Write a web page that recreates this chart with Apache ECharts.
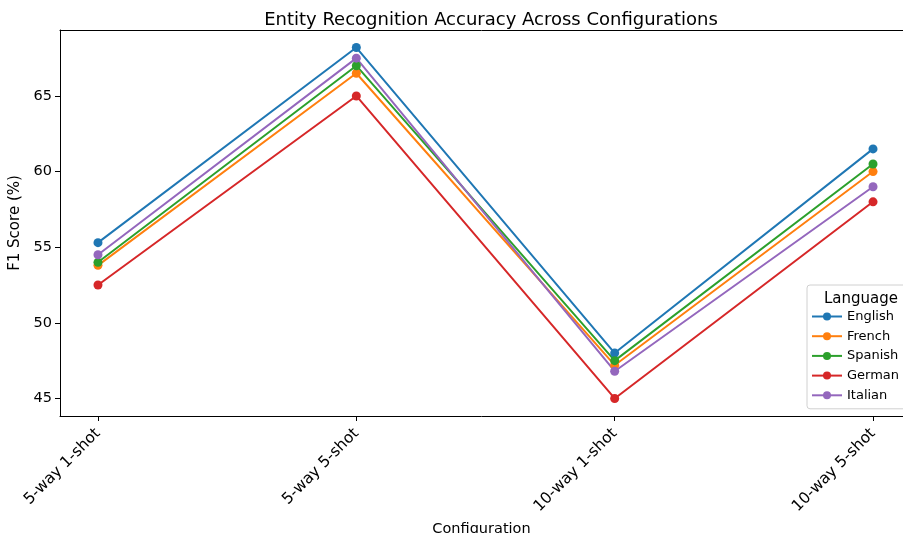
<!DOCTYPE html>
<html>
<head>
<meta charset="utf-8">
<script src="https://cdn.jsdelivr.net/npm/echarts@6/dist/echarts.min.js"></script>
<style>
html,body{margin:0;padding:0;background:#fff;}
#chart{width:903px;height:533px;}
</style>
</head>
<body>
<div id="chart"></div>
<script>
const categories = ['5-way 1-shot', '5-way 5-shot', '10-way 1-shot', '10-way 5-shot'];
const languages = ['English', 'French', 'Spanish', 'German', 'Italian'];
const english = [55.3, 68.2, 48.0, 61.5];
const french  = [53.8, 66.5, 47.2, 60.0];
const spanish = [54.0, 67.0, 47.5, 60.5];
const german  = [52.5, 65.0, 45.0, 58.0];
const italian = [54.5, 67.5, 46.8, 59.0];
const yTicks = [45, 50, 55, 60, 65];
const xTicks = [0, 1, 2, 3];
const colors = ['#1f77b4', '#ff7f0e', '#2ca02c', '#d62728', '#9467bd'];

const seriesValues = [english, french, spanish, german, italian];
const font = 'DejaVu Sans';
const chart = echarts.init(document.getElementById('chart'), null, {renderer: 'canvas'});
chart.setOption({
  animation: false,
  textStyle: {fontFamily: font},
  title: [{
    text: 'Entity Recognition Accuracy Across Configurations',
    left: 486, top: 6, textAlign: 'center',
    textStyle: {fontFamily: font, fontSize: 18, fontWeight: 'normal', color: '#000'}
  }, {
    text: 'Language',
    left: 856, top: 287, textAlign: 'center',
    textStyle: {fontFamily: font, fontSize: 15, fontWeight: 'normal', color: '#000'},
    z: 10
  }],
  legend: {
    data: languages,
    orient: 'vertical',
    left: 807, top: 285,
    padding: [25, 12, 7, 4],
    itemWidth: 30, itemHeight: 10, itemGap: 6.7,
    backgroundColor: 'rgba(255,255,255,0.85)',
    borderColor: '#d0d0d0', borderWidth: 1, borderRadius: 3,
    textStyle: {fontFamily: font, fontSize: 13, color: '#000'}
  },
  grid: {left: 60, top: 30, right: 0, bottom: 117, show: false, containLabel: false, outerBoundsMode: 'none'},
  xAxis: [{
    type: 'value', min: -0.147, max: 3.116,
    name: 'Configuration', nameLocation: 'middle', nameGap: 101,
    nameTextStyle: {fontFamily: font, fontSize: 14.5, color: '#000'},
    axisLine: {show: true, onZero: false, lineStyle: {color: '#000', width: 1}},
    axisTick: {show: true, length: 5, lineStyle: {color: '#000'}, customValues: xTicks},
    axisLabel: {
      customValues: xTicks, rotate: 45, margin: 15,
      fontFamily: font, fontSize: 15.5, color: '#000',
      formatter: v => categories[Math.round(v)]
    },
    splitLine: {show: false}
  }, {
    type: 'value', position: 'top', min: -0.147, max: 3.116,
    axisLine: {show: true, onZero: false, lineStyle: {color: '#000', width: 1}},
    axisTick: {show: false}, axisLabel: {show: false}, splitLine: {show: false}
  }],
  yAxis: {
    type: 'value', min: 43.84, max: 69.36,
    name: 'F1 Score (%)', nameLocation: 'middle', nameGap: 32, nameRotate: 90,
    nameTextStyle: {fontFamily: font, fontSize: 15, color: '#000'},
    axisLine: {show: true, onZero: false, lineStyle: {color: '#000', width: 1}},
    axisTick: {show: true, length: 5, lineStyle: {color: '#000'}, customValues: yTicks},
    axisLabel: {customValues: yTicks, margin: 8, fontFamily: font, fontSize: 14.5, color: '#000'},
    splitLine: {show: false}
  },
  series: languages.map((name, i) => ({
    name, type: 'line',
    data: seriesValues[i].map((v, j) => [j, v]),
    color: colors[i],
    symbol: 'circle', symbolSize: 9,
    lineStyle: {width: 2, color: colors[i]},
    itemStyle: {color: colors[i]}
  }))
});
</script>
</body>
</html>
